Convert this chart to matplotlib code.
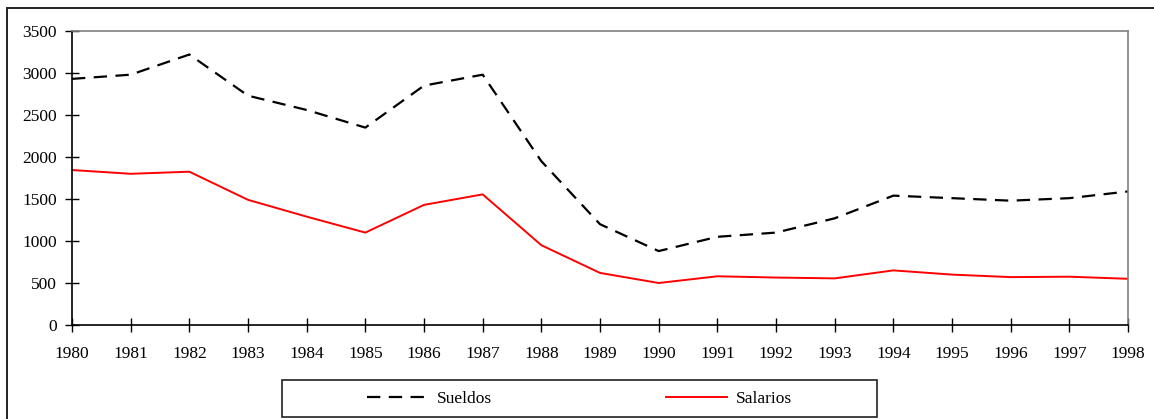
import matplotlib
matplotlib.use("Agg")
import matplotlib.pyplot as plt
from matplotlib.patches import Rectangle

years = list(range(1980, 1999))
sueldos = [2930, 2980, 3220, 2730, 2560, 2350, 2850, 2980, 1950, 1200,
           880, 1050, 1100, 1270, 1540, 1510, 1480, 1510, 1590]
salarios = [1845, 1800, 1825, 1490, 1290, 1100, 1430, 1555, 950, 620,
            500, 580, 565, 555, 650, 600, 570, 575, 550]
yticks = [0, 500, 1000, 1500, 2000, 2500, 3000, 3500]

plt.rcParams['font.family'] = ['Liberation Serif', 'DejaVu Serif']
plt.rcParams['font.size'] = 12.5

W, H = 1154, 419
fig = plt.figure(figsize=(W / 100, H / 100), dpi=100)
ax = fig.add_axes([72 / W, 1 - 325 / H, (1128 - 72) / W, (325 - 31) / H])

ax.plot(years, sueldos, color='black', lw=1.6, dashes=(6, 3.8), label='Sueldos')
ax.plot(years, salarios, color='#ff0000', lw=1.4, label='Salarios')

ax.set_xlim(1980, 1998)
ax.set_ylim(0, 3500)
ax.set_xticks(years)
ax.set_xticklabels([str(y) for y in years])
ax.set_yticks(yticks)
ax.tick_params(direction='inout', length=10, width=1, color='black')
ax.tick_params(axis='y', pad=6)
ax.tick_params(axis='x', pad=10)
for s in ['top', 'right']:
    ax.spines[s].set_color('#808080')
    ax.spines[s].set_linewidth(1.2)
for s in ['left', 'bottom']:
    ax.spines[s].set_color('black')
    ax.spines[s].set_linewidth(1.2)

# outer border (cropped on right and bottom)
fig.patches.append(Rectangle((7 / W, -0.1), 1.2, 1 - 8 / H + 0.1,
                             transform=fig.transFigure, fill=False,
                             edgecolor='#222222', lw=1.4))

# legend box
lx0, lx1, ly0, ly1 = 282, 877, 380, 417
fig.patches.append(Rectangle((lx0 / W, 1 - ly1 / H), (lx1 - lx0) / W, (ly1 - ly0) / H,
                             transform=fig.transFigure, fill=False,
                             edgecolor='#222222', lw=1.2))
handles, labels = ax.get_legend_handles_labels()
fig.legend(handles, labels, loc='center', ncol=2, frameon=False,
           bbox_to_anchor=((lx0 + lx1) / 2 / W, 1 - (ly0 + ly1) / 2 / H),
           handlelength=3.5, handletextpad=0.55, columnspacing=10,
           fontsize=12.5)

fig.savefig('out.png', dpi=100)
